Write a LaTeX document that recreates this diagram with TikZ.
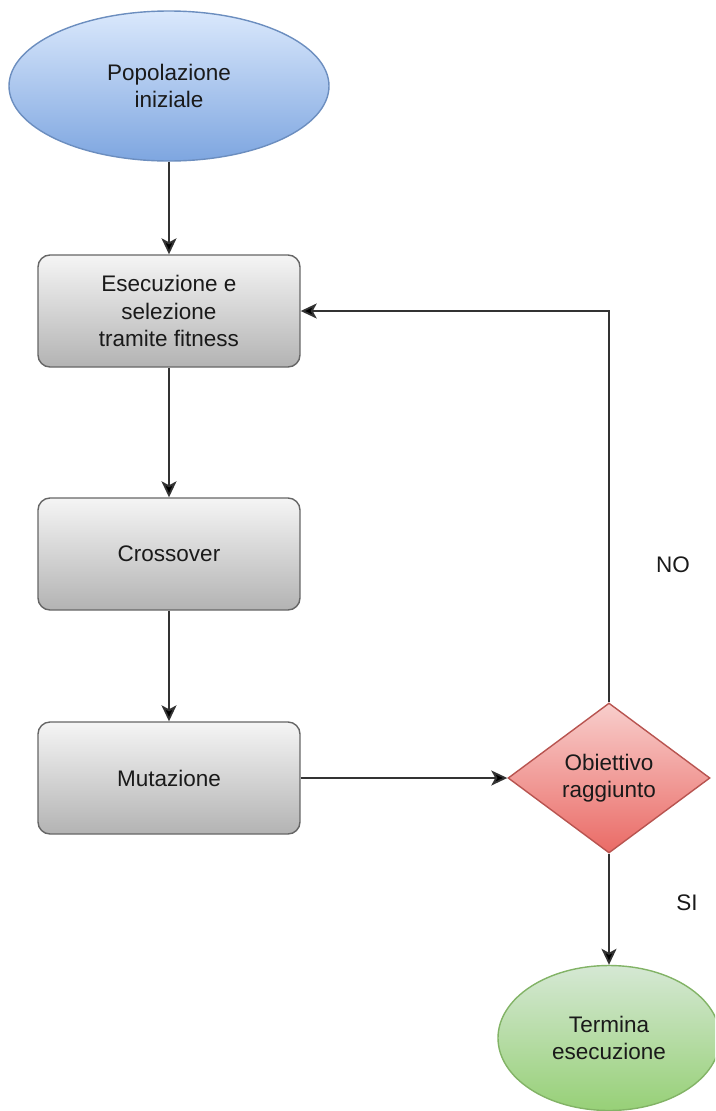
\documentclass[tikz,border=0pt]{standalone}
\usepackage{fontspec}
\setmainfont{Liberation Sans}
\usetikzlibrary{shapes.geometric,arrows.meta}

\definecolor{blueTop}{HTML}{DAE8FC}
\definecolor{blueBot}{HTML}{7EA6E0}
\definecolor{blueLine}{HTML}{6C8EBF}
\definecolor{grayTop}{HTML}{F5F5F5}
\definecolor{grayBot}{HTML}{B3B3B3}
\definecolor{grayLine}{HTML}{666666}
\definecolor{redTop}{HTML}{F8CECC}
\definecolor{redBot}{HTML}{EA6B66}
\definecolor{redLine}{HTML}{B85450}
\definecolor{greenTop}{HTML}{D5E8D4}
\definecolor{greenBot}{HTML}{97D077}
\definecolor{greenLine}{HTML}{82B366}
\definecolor{txt}{HTML}{1A1A1A}
\definecolor{wire}{HTML}{333333}

\tikzset{
  base/.style={font=\fontsize{22.5}{27.5}\selectfont, text=txt, align=center,
    inner sep=0pt, line width=1.4pt},
  startnode/.style={base, ellipse, draw=blueLine, top color=blueTop,
    bottom color=blueBot, minimum width=320pt, minimum height=150pt},
  endnode/.style={base, ellipse, draw=greenLine, top color=greenTop,
    bottom color=greenBot, minimum width=222pt, minimum height=145pt},
  stepbox/.style={base, rectangle, rounded corners=12pt, draw=grayLine,
    top color=grayTop, bottom color=grayBot, minimum width=262pt,
    minimum height=112pt},
  decision/.style={base, diamond, draw=redLine, top color=redTop,
    bottom color=redBot, minimum width=202pt, minimum height=150pt},
  flow/.style={draw=wire, line width=1.8pt,
    -{Stealth[length=16pt,width=15pt,inset=4pt,fill=black]}},
  lbl/.style={font=\fontsize{22.5}{27.5}\selectfont, text=txt, inner sep=0pt}
}

\begin{document}
\begin{tikzpicture}[x=1pt,y=-1pt]
  \useasboundingbox (0,0) rectangle (715,1111);
  \begin{scope}
    \clip (0,0) rectangle (715,1111);

    \node[startnode] (start) at (169,86) {Popolazione\\iniziale};
    \node[stepbox] (sel) at (169,311) {Esecuzione e\\selezione\\tramite fitness};
    \node[stepbox] (cross) at (169,554) {Crossover};
    \node[stepbox] (mut) at (169,778) {Mutazione};
    \node[decision] (goal) at (609,778) {Obiettivo\\raggiunto};
    \node[endnode] (stop) at (609,1038) {Termina\\esecuzione};

    \draw[flow] (start.south) -- (sel.north);
    \draw[flow] (sel.south) -- (cross.north);
    \draw[flow] (cross.south) -- (mut.north);
    \draw[flow] (mut.east) -- (goal.west);
    \draw[flow] (goal.north) |- (sel.east);
    \draw[flow] (goal.south) -- (stop.north);

    \node[lbl] (no) at (673,565) {NO};
    \node[lbl] (si) at (687,903) {SI};
  \end{scope}
\end{tikzpicture}
\end{document}
